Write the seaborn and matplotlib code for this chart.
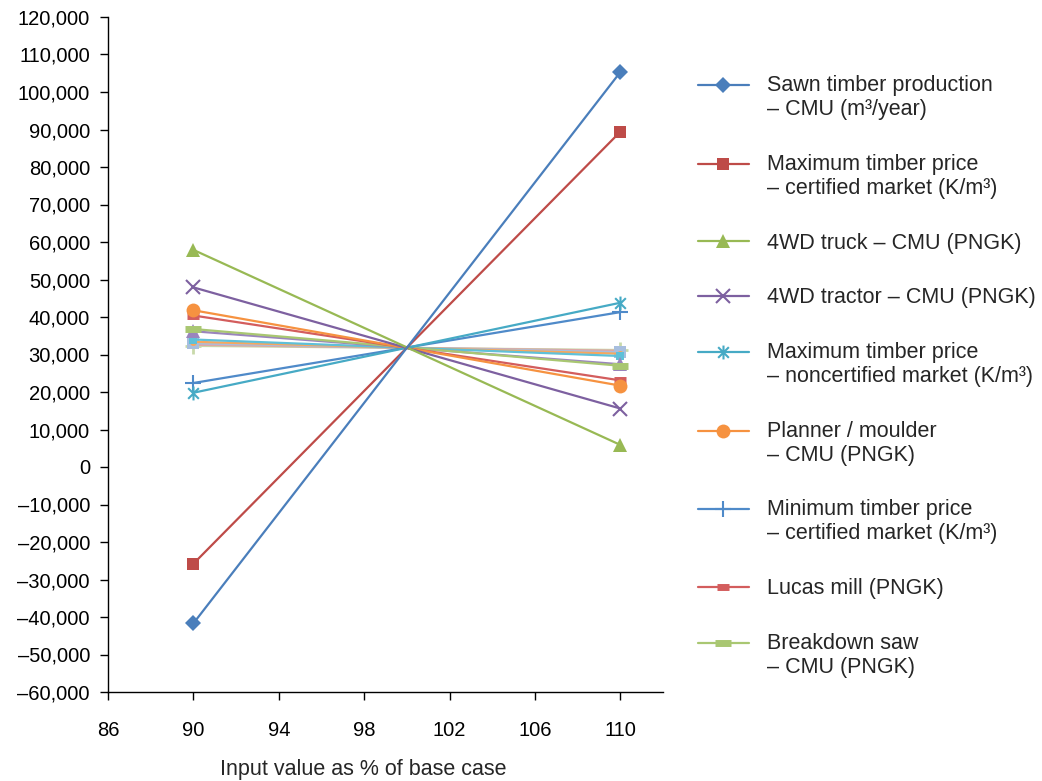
import numpy as np
import pandas as pd
import matplotlib
matplotlib.use("Agg")
import matplotlib.pyplot as plt
import seaborn as sns
from matplotlib.path import Path
from matplotlib.legend_handler import HandlerLine2D
from matplotlib.ticker import FuncFormatter

# ---------------- data ----------------
x_values = [90, 110]

series_names = [
    "Sawn timber production\n– CMU (m³/year)",
    "Maximum timber price\n– certified market (K/m³)",
    "4WD truck – CMU (PNGK)",
    "4WD tractor – CMU (PNGK)",
    "Maximum timber price\n– noncertified market (K/m³)",
    "Planner / moulder\n– CMU (PNGK)",
    "Minimum timber price\n– certified market (K/m³)",
    "Lucas mill (PNGK)",
    "Breakdown saw\n– CMU (PNGK)",
    "Series 10",
    "Series 11",
    "Series 12",
    "Series 13",
    "Series 14",
    "Series 15",
]
n_legend = 9

values_90 = [-41700, -25800, 57900, 47900, 19800, 41800, 22400, 40400, 36800,
             36200, 34000, 33400, 33000, 32600, 32300]
values_110 = [105300, 89400, 5900, 15600, 43800, 21700, 41300, 23100, 27000,
              27400, 29600, 30200, 30600, 31000, 31200]

y_ticks = list(range(-60000, 120001, 10000))
x_ticks = [86, 90, 94, 98, 102, 106, 110]

# ---------------- styles ----------------
colors = ["#4A7EBB", "#BE4B48", "#98B954", "#7D60A0", "#46AAC5", "#F69240",
          "#4F8AC9", "#D35D5D", "#A9C772", "#9A85BD", "#5FC0D8", "#F7A75D",
          "#A7BEDE", "#DDA7A6", "#C9D9AA"]

star = Path([(-1, -1), (1, 1), (-1, 1), (1, -1), (0, -1.3), (0, 1.3)],
            [Path.MOVETO, Path.LINETO, Path.MOVETO, Path.LINETO, Path.MOVETO, Path.LINETO])

styles = [
    dict(marker="D", ms=8, mew=0),
    dict(marker="s", ms=9, mew=0),
    dict(marker="^", ms=10, mew=0),
    dict(marker="x", ms=10, mew=1.5),
    dict(marker=star, ms=10, mew=1.5, mfc="none"),
    dict(marker="o", ms=10, mew=0),
    dict(marker="+", ms=12, mew=1.5),
    dict(marker="_", ms=8, mew=5),
    dict(marker="_", ms=12, mew=5),
    dict(marker="^", ms=10, mew=0),
    dict(marker="s", ms=6, mew=0),
    dict(marker="o", ms=5, mew=0),
    dict(marker="s", ms=9, mew=0),
    dict(marker="_", ms=9, mew=4),
    dict(marker="+", ms=12, mew=2),
]

sns.set_theme(style="ticks")
plt.rcParams["font.family"] = ["Liberation Sans", "DejaVu Sans"]
plt.rcParams["font.size"] = 14

fig = plt.figure(figsize=(10.42, 7.81), dpi=100)
ax = fig.add_axes([108 / 1042, 1 - 692 / 781, (663 - 108) / 1042, (692 - 17) / 781])

rows = []
for name, v90, v110 in zip(series_names, values_90, values_110):
    rows.append({"series": name, "x": x_values[0], "y": v90})
    rows.append({"series": name, "x": x_values[1], "y": v110})
df = pd.DataFrame(rows)

# draw lighter/extra series first so main ones are on top
order = list(range(len(series_names)))[::-1]
handles = {}
for i in order:
    name = series_names[i]
    sub = df[df["series"] == name]
    st = styles[i]
    kw = dict(marker=st["marker"], markersize=st["ms"], markeredgewidth=st["mew"],
              markerfacecolor=st.get("mfc", colors[i]), markeredgecolor=colors[i])
    sns.lineplot(data=sub, x="x", y="y", ax=ax, color=colors[i], linewidth=1.6,
                 **kw)
    handles[i] = ax.lines[-1]

ax.set_xlim(86, 112)
ax.set_ylim(-60000, 120000)
ax.set_xticks(x_ticks)
ax.set_yticks(y_ticks)
ax.yaxis.set_major_formatter(FuncFormatter(lambda v, p: f"{v:,.0f}".replace("-", "–")))
ax.tick_params(axis="both", direction="out", length=6, width=1, colors="#000000",
               labelsize=14.5)
ax.tick_params(axis="x", pad=15)
ax.tick_params(axis="y", pad=7)
for s in ["top", "right"]:
    ax.spines[s].set_visible(False)
for s in ["left", "bottom"]:
    ax.spines[s].set_color("#000000")
    ax.spines[s].set_linewidth(1)

ax.set_ylabel("")
ax.set_xlabel("Input value as % of base case", fontsize=15.5)
ax.xaxis.set_label_coords((363 - 108) / 555, -0.099)


class FirstLineHandler(HandlerLine2D):
    def __init__(self, shift=0.0, **kw):
        super().__init__(**kw)
        self.shift = shift

    def create_artists(self, legend, orig_handle, xdescent, ydescent, width, height,
                       fontsize, trans):
        arts = super().create_artists(legend, orig_handle, xdescent, ydescent, width,
                                      height, fontsize, trans)
        for a in arts:
            a.set_ydata(np.asarray(a.get_ydata()) + self.shift * fontsize)
        return arts


leg_handles = [handles[i] for i in range(n_legend)]
leg_labels = [series_names[i] for i in range(n_legend)]
handler_map = {h: FirstLineHandler(shift=(0.6 if "\n" in lab else 0.0))
               for h, lab in zip(leg_handles, leg_labels)}
leg = fig.legend(leg_handles, leg_labels, loc="upper left",
                 bbox_to_anchor=(698 / 1042, 1 - 75 / 781), frameon=False,
                 borderpad=0, borderaxespad=0, handlelength=2.35, handletextpad=0.85,
                 labelspacing=1.56, fontsize=15.5, handler_map=handler_map)
for t in leg.get_texts():
    t.set_linespacing(1.2)

fig.savefig("out.png", dpi=100)
